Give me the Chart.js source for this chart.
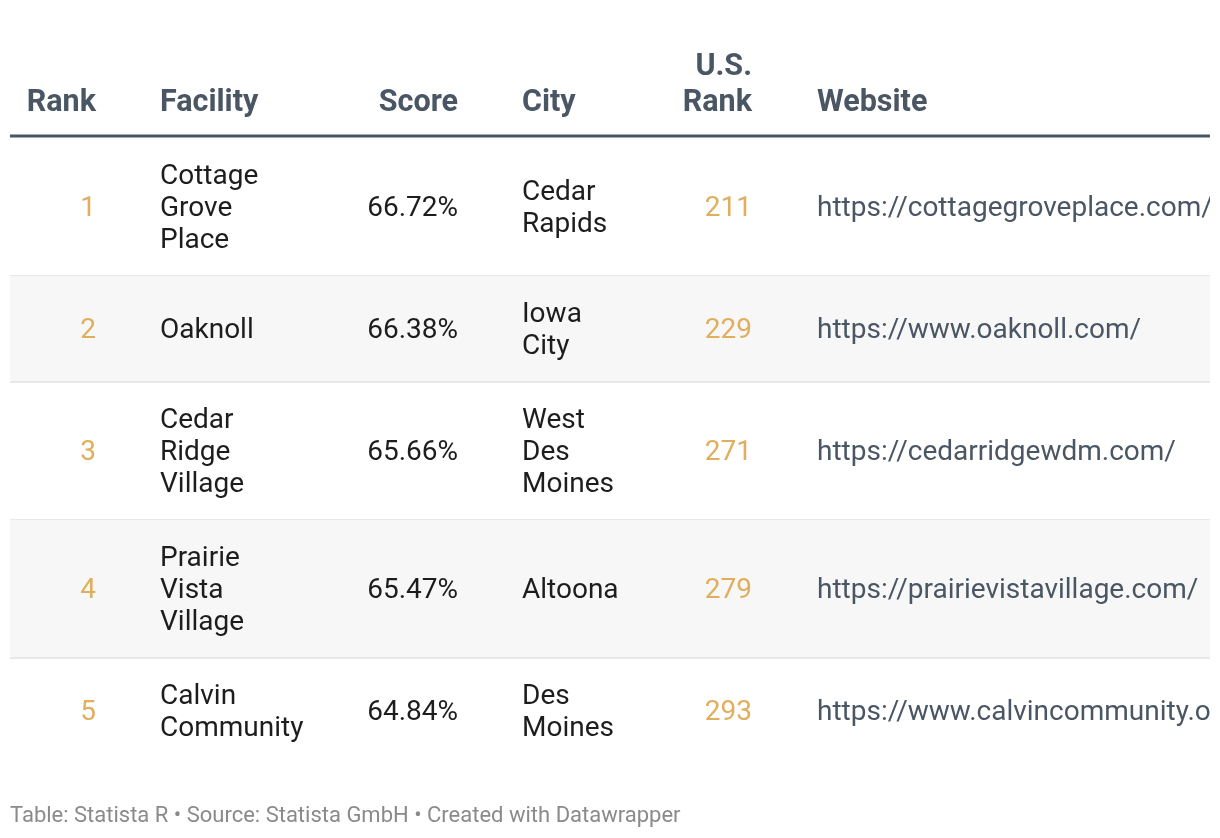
<!DOCTYPE html>
<html><head><meta charset="utf-8">
<script src="https://cdn.jsdelivr.net/npm/chart.js@4.4.1/dist/chart.umd.min.js"></script>
<style>html,body{margin:0;padding:0;background:#fff}canvas{display:block}</style>
</head><body>
<canvas id="c" width="1220" height="838"></canvas>
<script>
// ---- data ----
const headers = ["Rank", "Facility", "Score", "City", "U.S. Rank", "Website"];
const ranks = [1, 2, 3, 4, 5];
const facilities = ["Cottage Grove Place", "Oaknoll", "Cedar Ridge Village", "Prairie Vista Village", "Calvin Community"];
const scores = [66.72, 66.38, 65.66, 65.47, 64.84];
const cities = ["Cedar Rapids", "Iowa City", "West Des Moines", "Altoona", "Des Moines"];
const usRanks = [211, 229, 271, 279, 293];
const websites = ["https://cottagegroveplace.com/", "https://www.oaknoll.com/", "https://cedarridgewdm.com/", "https://prairievistavillage.com/", "https://www.calvincommunity.org/"];
const footerText = "Table: Statista R \u2022 Source: Statista GmbH \u2022 Created with Datawrapper";

// ---- style / layout ----
const FONT = "Roboto, 'Noto Sans', sans-serif";
const bodySize = 28, headSize = 30.5, lineH = 32, headLineH = 36, pad = 21;
const C_HEAD = "#4a5664", C_TEXT = "#1d1d1d", C_GOLD = "#e0ae5c", C_LINK = "#4a5664";
const tableLeft = 10, tableRight = 1210;
const headerBaseline = 111, headerRule = 136, firstRowTop = 138, footerBaseline = 822;
const columns = [
  {values: ranks.map(String), align: "right", x: 96, color: C_GOLD, wrap: 0, hwrap: 200},
  {values: facilities, align: "left", x: 160, color: C_TEXT, wrap: 140, hwrap: 200},
  {values: scores.map(v => v.toFixed(2) + "%"), align: "right", x: 458, color: C_TEXT, wrap: 0, hwrap: 200},
  {values: cities, align: "left", x: 522, color: C_TEXT, wrap: 105, hwrap: 200},
  {values: usRanks.map(String), align: "right", x: 752, color: C_GOLD, wrap: 0, hwrap: 90},
  {values: websites, align: "left", x: 817, color: C_LINK, wrap: 0, hwrap: 300}
];

function wrapText(ctx, text, maxW) {
  if (!maxW) return [text];
  const words = text.split(" ");
  const lines = [];
  let cur = "";
  for (const w of words) {
    const t = cur ? cur + " " + w : w;
    if (cur && ctx.measureText(t).width > maxW) { lines.push(cur); cur = w; }
    else cur = t;
  }
  if (cur) lines.push(cur);
  return lines;
}

const tablePlugin = {
  id: "tablePlugin",
  afterDraw(chart) {
    const ctx = chart.ctx;
    const xs = chart.scales.x, ys = chart.scales.y;
    const X = v => xs.getPixelForValue(v);
    const Y = v => ys.getPixelForValue(v);
    ctx.save();
    ctx.font = bodySize + "px " + FONT;
    const cells = ranks.map((_, r) => columns.map(col => wrapText(ctx, col.values[r], col.wrap)));
    const rowLines = cells.map(row => Math.max(...row.map(c => c.length)));
    let top = firstRowTop;
    const rows = rowLines.map(n => { const h = n * lineH + 2 * pad; const o = {top, h}; top += h; return o; });
    rows.forEach((row, r) => {
      if (r % 2 === 1) {
        ctx.fillStyle = "#f7f7f7";
        ctx.fillRect(X(tableLeft), Y(row.top), X(tableRight) - X(tableLeft), Y(row.top + row.h) - Y(row.top));
      }
      if (r < rows.length - 1) {
        ctx.fillStyle = "#e8e8e8";
        ctx.fillRect(X(tableLeft), Y(row.top + row.h) - 1, X(tableRight) - X(tableLeft), 2);
      }
    });
    ctx.fillStyle = C_HEAD;
    ctx.fillRect(X(tableLeft), Y(headerRule) - 1.5, X(tableRight) - X(tableLeft), 3);
    ctx.beginPath();
    ctx.rect(X(tableLeft), 0, X(tableRight) - X(tableLeft), chart.height);
    ctx.clip();
    ctx.font = "bold " + headSize + "px " + FONT;
    ctx.fillStyle = C_HEAD;
    ctx.textBaseline = "alphabetic";
    headers.forEach((h, i) => {
      const col = columns[i];
      const lines = wrapText(ctx, h, col.hwrap);
      ctx.textAlign = col.align;
      lines.forEach((ln, k) => {
        ctx.fillText(ln, X(col.x), Y(headerBaseline - (lines.length - 1 - k) * headLineH));
      });
    });
    ctx.font = bodySize + "px " + FONT;
    rows.forEach((row, r) => {
      columns.forEach((col, i) => {
        const lines = cells[r][i];
        const blockTop = row.top + (row.h - lines.length * lineH) / 2;
        ctx.fillStyle = col.color;
        ctx.textAlign = col.align;
        lines.forEach((ln, k) => {
          ctx.fillText(ln, X(col.x), Y(blockTop + k * lineH + 25));
        });
      });
    });
    ctx.restore();
    ctx.save();
    ctx.font = "22px " + FONT;
    ctx.fillStyle = "#8a8a8a";
    ctx.textAlign = "left";
    ctx.fillText(footerText, X(tableLeft), Y(footerBaseline));
    ctx.restore();
  }
};

new Chart(document.getElementById("c"), {
  type: "scatter",
  data: {datasets: [{data: [], pointRadius: 0}]},
  options: {
    responsive: false,
    animation: false,
    layout: {padding: 0},
    plugins: {legend: {display: false}, tooltip: {enabled: false}},
    scales: {
      x: {type: "linear", min: 0, max: 1220, display: false},
      y: {type: "linear", min: 0, max: 838, reverse: true, display: false}
    }
  },
  plugins: [tablePlugin]
});
</script>
</body></html>
